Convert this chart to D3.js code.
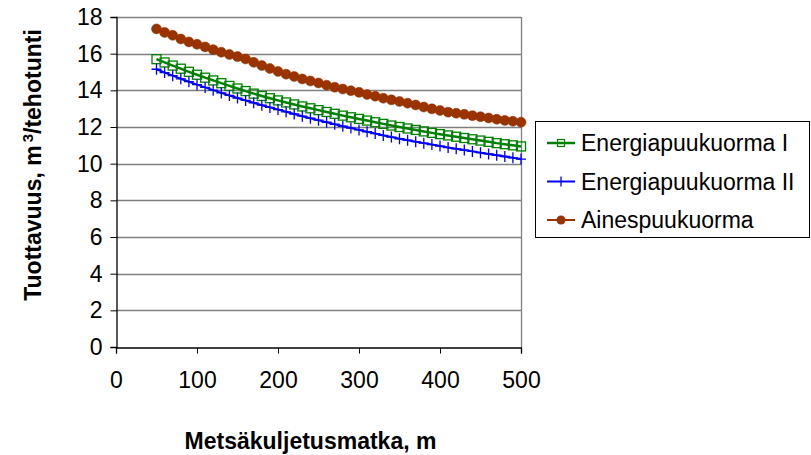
<!DOCTYPE html>
<html>
<head>
<meta charset="utf-8">
<script src="https://cdn.jsdelivr.net/npm/d3@7"></script>
<style>
  html, body { margin: 0; padding: 0; background: #fff; }
  svg { display: block; font-family: "Liberation Sans", Arial, sans-serif; }
</style>
</head>
<body>
<svg id="chart" width="811" height="455"></svg>
<script>
// Forwarding distance, m
const distances = [50, 60, 70, 80, 90, 100, 110, 120, 130, 140, 150, 160, 170, 180, 190, 200,
  210, 220, 230, 240, 250, 260, 270, 280, 290, 300, 310, 320, 330, 340, 350,
  360, 370, 380, 390, 400, 410, 420, 430, 440, 450, 460, 470, 480, 490, 500];

// Productivity, m3 per effective hour
const energiaI = [15.70, 15.52, 15.35, 15.18, 15.01, 14.85, 14.69, 14.54, 14.39, 14.24, 14.10, 13.96, 13.82, 13.69, 13.57, 13.45,
  13.34, 13.23, 13.12, 13.02, 12.92, 12.82, 12.72, 12.62, 12.53, 12.44, 12.35, 12.26, 12.17, 12.08, 12.00,
  11.92, 11.84, 11.76, 11.68, 11.61, 11.54, 11.47, 11.40, 11.33, 11.26, 11.19, 11.12, 11.06, 11.00, 10.94];
const energiaII = [15.15, 14.97, 14.80, 14.63, 14.47, 14.31, 14.16, 14.01, 13.86, 13.72, 13.58, 13.45, 13.32, 13.19, 13.07, 12.95,
  12.83, 12.71, 12.59, 12.48, 12.37, 12.26, 12.15, 12.04, 11.94, 11.84, 11.74, 11.64, 11.54, 11.45, 11.36,
  11.28, 11.20, 11.12, 11.04, 10.96, 10.88, 10.81, 10.74, 10.67, 10.60, 10.53, 10.46, 10.39, 10.32, 10.25];
const ainespuu = [17.35, 17.16, 17.00, 16.80, 16.64, 16.51, 16.37, 16.22, 16.08, 15.95, 15.84, 15.71, 15.53, 15.35, 15.19, 15.03,
  14.88, 14.75, 14.62, 14.51, 14.40, 14.28, 14.17, 14.07, 13.98, 13.89, 13.77, 13.68, 13.57, 13.48, 13.39,
  13.30, 13.20, 13.09, 12.99, 12.90, 12.81, 12.75, 12.69, 12.62, 12.56, 12.49, 12.42, 12.36, 12.31, 12.26];

const seriesNames = ["Energiapuukuorma I", "Energiapuukuorma II", "Ainespuukuorma"];
const xTicks = [0, 100, 200, 300, 400, 500];
const yTicks = [0, 2, 4, 6, 8, 10, 12, 14, 16, 18];

const series = [
  { name: seriesNames[0], values: energiaI, color: "#008000", marker: "square", width: 2.5 },
  { name: seriesNames[1], values: energiaII, color: "#0000ff", marker: "plus", width: 2 },
  { name: seriesNames[2], values: ainespuu, color: "#993300", marker: "circle", width: 2 }
];

const svg = d3.select("#chart");
const plot = { left: 116, right: 521, top: 17, bottom: 347 };

const x = d3.scaleLinear().domain([0, 500]).range([plot.left, plot.right]);
const y = d3.scaleLinear().domain([0, 18]).range([plot.bottom, plot.top]);

// Horizontal gridlines
svg.append("g")
  .selectAll("line")
  .data(yTicks.filter(d => d > 0))
  .join("line")
  .attr("x1", plot.left).attr("x2", plot.right)
  .attr("y1", d => Math.round(y(d)) + 0.5).attr("y2", d => Math.round(y(d)) + 0.5)
  .attr("stroke", "#808080").attr("stroke-width", 1.3);

// Right edge of plot area
svg.append("line")
  .attr("x1", plot.right + 0.5).attr("x2", plot.right + 0.5)
  .attr("y1", plot.top).attr("y2", plot.bottom)
  .attr("stroke", "#808080").attr("stroke-width", 1.3);

const tickFont = "23px";

// Y axis
const yAxis = svg.append("g")
  .attr("transform", `translate(${plot.left + 0.5},0)`)
  .call(d3.axisLeft(y).tickValues(yTicks).tickSize(6).tickPadding(8).tickFormat(d3.format("d")));
yAxis.select(".domain").attr("stroke", "#000").attr("stroke-width", 1.3);
yAxis.selectAll(".tick line").attr("stroke", "#000");
yAxis.selectAll(".tick text")
  .attr("font-size", tickFont).attr("fill", "#000")
  .attr("font-family", "Liberation Sans, Arial, sans-serif");

// X axis
const xAxis = svg.append("g")
  .attr("transform", `translate(0,${plot.bottom + 0.5})`)
  .call(d3.axisBottom(x).tickValues(xTicks).tickSize(6).tickPadding(18).tickFormat(d3.format("d")));
xAxis.select(".domain").attr("stroke", "#000").attr("stroke-width", 1.3);
xAxis.selectAll(".tick line").attr("stroke", "#000");
xAxis.selectAll(".tick text")
  .attr("font-size", tickFont).attr("fill", "#000")
  .attr("font-family", "Liberation Sans, Arial, sans-serif");

// Marker drawing
function drawMarker(g, type, color) {
  if (type === "circle") {
    g.append("circle").attr("r", 5).attr("fill", color).attr("stroke", color).attr("stroke-width", 0.5);
  } else if (type === "square") {
    g.append("rect").attr("x", -4.5).attr("y", -4.5).attr("width", 9).attr("height", 9)
      .attr("fill", "none").attr("stroke", color).attr("stroke-width", 1.3);
  } else if (type === "plus") {
    g.append("path").attr("d", "M-5,0H5M0,-5.5V5.5")
      .attr("stroke", color).attr("stroke-width", 1.3).attr("fill", "none");
  }
}

const line = d3.line().x(d => x(d[0])).y(d => y(d[1]));

series.forEach(s => {
  const pts = distances.map((d, i) => [d, s.values[i]]);
  const g = svg.append("g");
  g.append("path")
    .datum(pts)
    .attr("d", line)
    .attr("fill", "none")
    .attr("stroke", s.color)
    .attr("stroke-width", s.width);
  g.selectAll("g.m")
    .data(pts)
    .join("g")
    .attr("class", "m")
    .attr("transform", d => `translate(${x(d[0])},${y(d[1])})`)
    .each(function () { drawMarker(d3.select(this), s.marker, s.color); });
});

// Legend
const legend = svg.append("g");
legend.append("rect")
  .attr("x", 535.5).attr("y", 121.5).attr("width", 274).attr("height", 116)
  .attr("fill", "#fff").attr("stroke", "#000").attr("stroke-width", 1);
const rowY = [143, 181.5, 220];
series.forEach((s, i) => {
  const row = legend.append("g").attr("transform", `translate(0,${rowY[i]})`);
  row.append("line").attr("x1", 547).attr("x2", 575).attr("y1", 0).attr("y2", 0)
    .attr("stroke", s.color).attr("stroke-width", s.width);
  const m = row.append("g").attr("transform", "translate(561,0)");
  if (s.marker === "square") {
    m.append("rect").attr("x", -3.5).attr("y", -3.5).attr("width", 7).attr("height", 7)
      .attr("fill", "none").attr("stroke", s.color).attr("stroke-width", 1.2);
  } else if (s.marker === "plus") {
    m.append("path").attr("d", "M0,-5V5").attr("stroke", s.color).attr("stroke-width", 1.3);
  } else {
    m.append("circle").attr("r", 4.5).attr("fill", s.color);
  }
  row.append("text")
    .attr("x", 581).attr("y", 0).attr("dy", "0.36em")
    .attr("font-size", tickFont).attr("fill", "#000")
    .text(s.name);
});

// Axis titles
svg.append("text")
  .attr("x", (plot.left + plot.right) / 2 - 8).attr("y", 449)
  .attr("text-anchor", "middle")
  .attr("font-size", "23px").attr("font-weight", "bold").attr("fill", "#000")
  .text("Metsäkuljetusmatka, m");

const yTitle = svg.append("text")
  .attr("transform", "translate(41,165) rotate(-90)")
  .attr("text-anchor", "middle")
  .attr("font-size", "23px").attr("font-weight", "bold").attr("fill", "#000");
yTitle.append("tspan").text("Tuottavuus, m");
yTitle.append("tspan").attr("dx", "3").attr("dy", "-0.55em").attr("font-size", "15px").text("3");
yTitle.append("tspan").attr("dy", "0.36em").text("/tehotunti");
</script>
</body>
</html>
